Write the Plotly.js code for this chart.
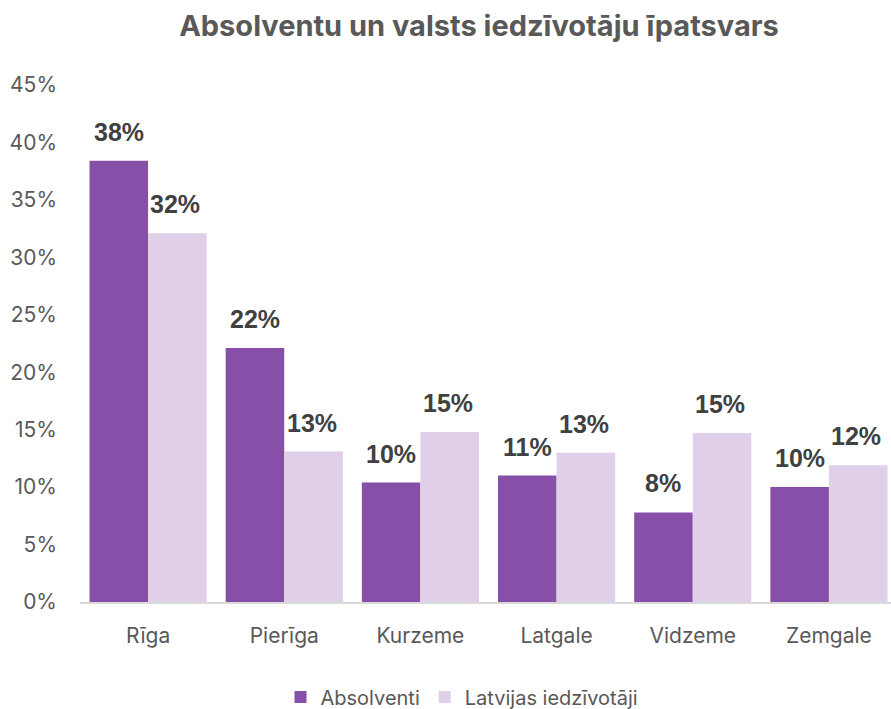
<!DOCTYPE html>
<html>
<head>
<meta charset="utf-8">
<script src="https://cdn.plot.ly/plotly-3.0.1.min.js"></script>
<style>
html,body{margin:0;padding:0;overflow:hidden;background:#fff;}
#chart{width:897px;height:709px;}
</style>
</head>
<body>
<div id="chart"></div>
<script>
const categories = ["Rīga", "Pierīga", "Kurzeme", "Latgale", "Vidzeme", "Zemgale"];
const absolventi = [0.384, 0.221, 0.104, 0.110, 0.078, 0.100];
const iedzivotaji = [0.321, 0.131, 0.148, 0.130, 0.147, 0.119];
const seriesNames = ["Absolventi", "Latvijas iedzīvotāji"];
const yTickVals = [0, 0.05, 0.10, 0.15, 0.20, 0.25, 0.30, 0.35, 0.40, 0.45];

const colors = ["#874fa7", "#e0cfe8"];
const W = 897, H = 709;
const ml = 80, mr = 0, mt = 85, mb = 107;
const plotW = W - ml - mr;
const catW = plotW / categories.length;
const bargap = 0.14;
const barW = catW * (1 - bargap) / 2;
const FONT = "Inter, Roboto, sans-serif";

const traces = [absolventi, iedzivotaji].map((vals, i) => ({
  type: "bar",
  name: seriesNames[i],
  x: categories,
  y: vals,
  marker: {color: colors[i]},
  hoverinfo: "none"
}));

const annotations = [];
[absolventi, iedzivotaji].forEach((vals, i) => {
  vals.forEach((v, j) => {
    annotations.push({
      x: categories[j], y: v, xref: "x", yref: "y",
      text: Math.round(v * 100) + "%",
      showarrow: false,
      xanchor: "center", yanchor: "bottom",
      xshift: (i === 0 ? -1 : 1) * barW / 2 - (i === 1 ? 2 : 0),
      yshift: 13,
      font: {family: "Liberation Sans, Arial, sans-serif", size: 25, color: "#404040", weight: "bold"}
    });
  });
});

const layout = {
  width: W, height: H,
  margin: {l: ml, r: mr, t: mt, b: mb, pad: 0},
  paper_bgcolor: "#fff", plot_bgcolor: "#fff",
  barmode: "group",
  bargap: bargap, bargroupgap: 0,
  title: {
    text: "<b>Absolventu un valsts iedzīvotāju īpatsvars</b>",
    xref: "container", x: 479 / W, xanchor: "center",
    yref: "container", y: 1 - 26 / H, yanchor: "middle",
    font: {family: FONT, size: 29, color: "#595959"}
  },
  xaxis: {
    type: "category",
    showgrid: false, zeroline: false,
    showline: true, linecolor: "#d9d9d9", linewidth: 2,
    ticks: "", ticklabelstandoff: 14,
    tickfont: {family: FONT, size: 21, color: "#595959"}
  },
  yaxis: {
    range: [0, 0.45],
    tickvals: yTickVals,
    tickformat: ".0%",
    showgrid: false, zeroline: false, showline: false,
    ticks: "", ticklabelstandoff: 22,
    tickfont: {family: FONT, size: 21, color: "#595959"}
  },
  legend: {
    orientation: "h",
    xref: "container", x: 462 / W, xanchor: "center",
    yref: "container", y: 1 - 697 / H, yanchor: "middle",
    font: {family: FONT, size: 20, color: "#595959"},
    itemwidth: 30, traceorder: "normal"
  },
  annotations: annotations,
  showlegend: true
};

Plotly.newPlot("chart", traces, layout, {displayModeBar: false, staticPlot: true});
</script>
</body>
</html>
